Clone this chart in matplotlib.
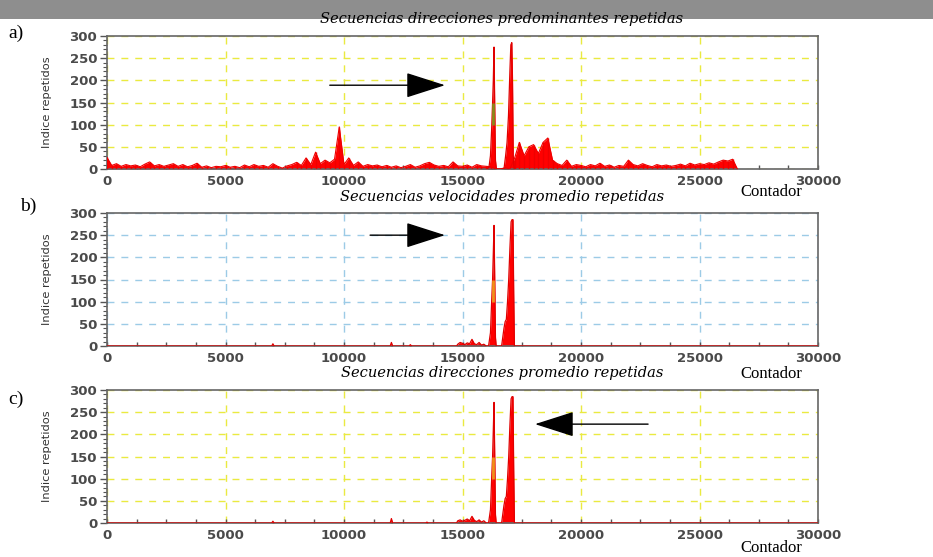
import numpy as np
import matplotlib
matplotlib.use("Agg")
import matplotlib.pyplot as plt
from matplotlib.patches import Rectangle
from matplotlib.ticker import MultipleLocator

# ---------------- data ----------------
titles = ["Secuencias direcciones predominantes repetidas",
          "Secuencias velocidades promedio repetidas",
          "Secuencias direcciones promedio repetidas"]
panel_labels = ["a)", "b)", "c)"]
ylabel = "Indice repetidos"
xlabel = "Contador"
x_ticks = [0, 5000, 10000, 15000, 20000, 25000, 30000]
y_ticks = [0, 50, 100, 150, 200, 250, 300]

# panel a: background noise every 200 counts (0 .. 26600)
a_noise_step = 200
a_noise = [26, 8, 12, 6, 10, 7, 9, 5, 11, 16,
           7, 10, 6, 9, 12, 6, 10, 5, 8, 13,
           4, 7, 3, 6, 5, 8, 4, 6, 3, 9,
           5, 10, 6, 8, 4, 12, 6, 2, 7, 10,
           15, 8, 25, 10, 38, 12, 20, 14, 22, 95,
           10, 25, 8, 16, 6, 10, 7, 9, 5, 8,
           4, 7, 3, 6, 10, 4, 7, 12, 15, 9,
           6, 8, 5, 16, 7, 6, 9, 4, 10, 7,
           6, 5, 0, 0, 3, 0,
           25, 60, 30, 50,
           55, 35, 60, 70, 20, 12, 8, 20, 6, 10,
           8, 5, 10, 7, 13, 6, 9, 4, 8, 6,
           20, 10, 7, 12, 8, 5, 10, 7, 9, 6,
           8, 11, 7, 13, 9, 12, 10, 14, 11, 16, 20, 18, 22, 0]
a_peak_x = [16050, 16120, 16180, 16230, 16270, 16300, 16330, 16360, 16390, 16430,
            16750, 16820, 16880, 16940, 17000, 17040, 17080, 17110, 17140, 17180]
a_peak_y = [0, 5, 30, 90, 150, 200, 275, 140, 20, 0,
            0, 30, 60, 120, 220, 280, 285, 200, 30, 0]

# panel b
b_x = [0, 6950, 7000, 7050, 11950, 12000, 12050, 12750, 12800, 12850,
       14750, 14800, 14900, 15000, 15100, 15200, 15300, 15400, 15500, 15600, 15700, 15800, 15900, 16000,
       16100, 16180, 16230, 16270, 16300, 16330, 16360, 16390, 16420,
       16650, 16700, 16750, 16800, 16850, 16900, 16950, 17000, 17050, 17090, 17130, 17160, 17190, 30000]
b_y = [0, 0, 5, 0, 0, 8, 0, 0, 3, 0,
       0, 4, 8, 6, 3, 7, 5, 15, 5, 3, 8, 2, 4, 0,
       0, 30, 100, 150, 210, 272, 150, 20, 0,
       0, 20, 40, 55, 60, 100, 150, 220, 280, 285, 285, 120, 0, 0]

# panel c
c_x = [0, 6950, 7000, 7050, 11950, 12000, 12050, 13450, 13500, 13550,
       14750, 14800, 14900, 15000, 15100, 15200, 15300, 15400, 15500, 15600, 15700, 15800, 15900, 16000,
       16100, 16180, 16230, 16270, 16300, 16330, 16360, 16390, 16420,
       16650, 16700, 16750, 16800, 16850, 16900, 16950, 17000, 17050, 17090, 17130, 17160, 17190, 30000]
c_y = [0, 0, 4, 0, 0, 10, 0, 0, 2, 0,
       0, 5, 7, 4, 6, 9, 5, 15, 6, 3, 7, 2, 5, 0,
       0, 30, 100, 150, 210, 272, 150, 20, 0,
       0, 20, 40, 55, 60, 100, 150, 220, 280, 285, 285, 120, 0, 0]

# highlighted (overlap colour) segments: x, low, high
hl_x = [16300, 16300, 16300]
hl_lo = [100, 100, 100]
hl_hi = [150, 150, 150]
hl_colors = ["#8a8a1a", "#f0901a", "#f0901a"]

# arrows: (tail_x, tip_x, y)
arrows = [(9400, 14260, 189), (11100, 14260, 250), (22830, 18060, 223)]

grid_colors = ["#eaea40", "#9ccbe6", "#eaea40"]

# ---------------- figure ----------------
W, H = 933, 557
fig = plt.figure(figsize=(W / 100, H / 100), dpi=100)
fig.patch.set_facecolor("white")

# gray header band
fig.patches.append(Rectangle((0, 1 - 19 / H), 1, 19 / H, transform=fig.transFigure,
                             facecolor="#8e8e8e", edgecolor="none", zorder=0))

a_noise_x = np.arange(len(a_noise)) * a_noise_step

series = [(np.array(a_peak_x), np.array(a_peak_y)),
          (np.array(b_x), np.array(b_y)),
          (np.array(c_x), np.array(c_y))]

tops = [36, 213, 390]
left_px, right_px = 107, 818
ax_h = 133
contador_y = [192, 374, 548]
label_pos = [(8, 33), (20, 206), (8, 399)]
title_y = [19, 197, 373]

for i in range(3):
    bottom = 1 - (tops[i] + ax_h) / H
    ax = fig.add_axes([left_px / W, bottom, (right_px - left_px) / W, ax_h / H])
    if i == 0:
        ax.fill_between(a_noise_x, 0, a_noise, color="#ff0000", linewidth=0, zorder=2)
        ax.plot(a_noise_x, a_noise, color="#ee0000", linewidth=0.8, zorder=3)
        ax.vlines(a_noise_x, 0, a_noise, color="#ee0000", linewidth=1.0, zorder=3)
    x, y = series[i]
    ax.fill_between(x, 0, y, color="#ff0000", linewidth=0, zorder=2)
    ax.plot(x, y, color="#e00000", linewidth=0.9, zorder=3)
    ax.vlines([hl_x[i]], [hl_lo[i]], [hl_hi[i]], color=hl_colors[i], linewidth=2, zorder=4)

    ax.set_xlim(0, 30000)
    ax.set_ylim(0, 300)
    ax.set_xticks(x_ticks)
    ax.set_yticks(y_ticks)
    ax.xaxis.set_minor_locator(MultipleLocator(1250))
    ax.yaxis.set_minor_locator(MultipleLocator(10))
    ax.tick_params(axis="x", which="both", direction="in", length=3, width=1,
                   color="#555555", labelsize=9.5, labelcolor="#4a4a4a", pad=4)
    ax.tick_params(axis="y", which="major", direction="out", length=5, width=1,
                   color="#555555", labelsize=9.5, labelcolor="#4a4a4a", pad=2)
    ax.tick_params(axis="y", which="minor", direction="out", length=3, width=0.8,
                   color="#555555")
    for lab in ax.get_xticklabels() + ax.get_yticklabels():
        lab.set_fontweight("bold")
    ax.grid(True, which="major", color=grid_colors[i], linestyle=(0, (5, 5)), linewidth=1, zorder=1)
    ax.set_axisbelow(True)
    for s in ax.spines.values():
        s.set_color("#666666")
        s.set_linewidth(1.2)

    t = arrows[i]
    ax.annotate("", xy=(t[1], t[2]), xytext=(t[0], t[2]),
                arrowprops=dict(arrowstyle="-|>,head_length=2.5,head_width=0.8",
                                color="black", linewidth=1, shrinkA=0, shrinkB=0,
                                mutation_scale=10), zorder=6)

    fig.text(502 / W, 1 - title_y[i] / H, titles[i], ha="center", va="center",
             fontsize=10.5, family="DejaVu Serif", style="italic")
    fig.text(771 / W, 1 - contador_y[i] / H, xlabel, ha="center", va="center",
             fontsize=12, family="Liberation Serif")
    fig.text(label_pos[i][0] / W, 1 - label_pos[i][1] / H, panel_labels[i], ha="left",
             va="center", fontsize=14, family="Liberation Serif")
    fig.text(47 / W, 1 - (tops[i] + ax_h / 2) / H, ylabel, rotation=90, ha="center",
             va="center", fontsize=8.2, color="#333333")

fig.savefig("out.png", dpi=100)
